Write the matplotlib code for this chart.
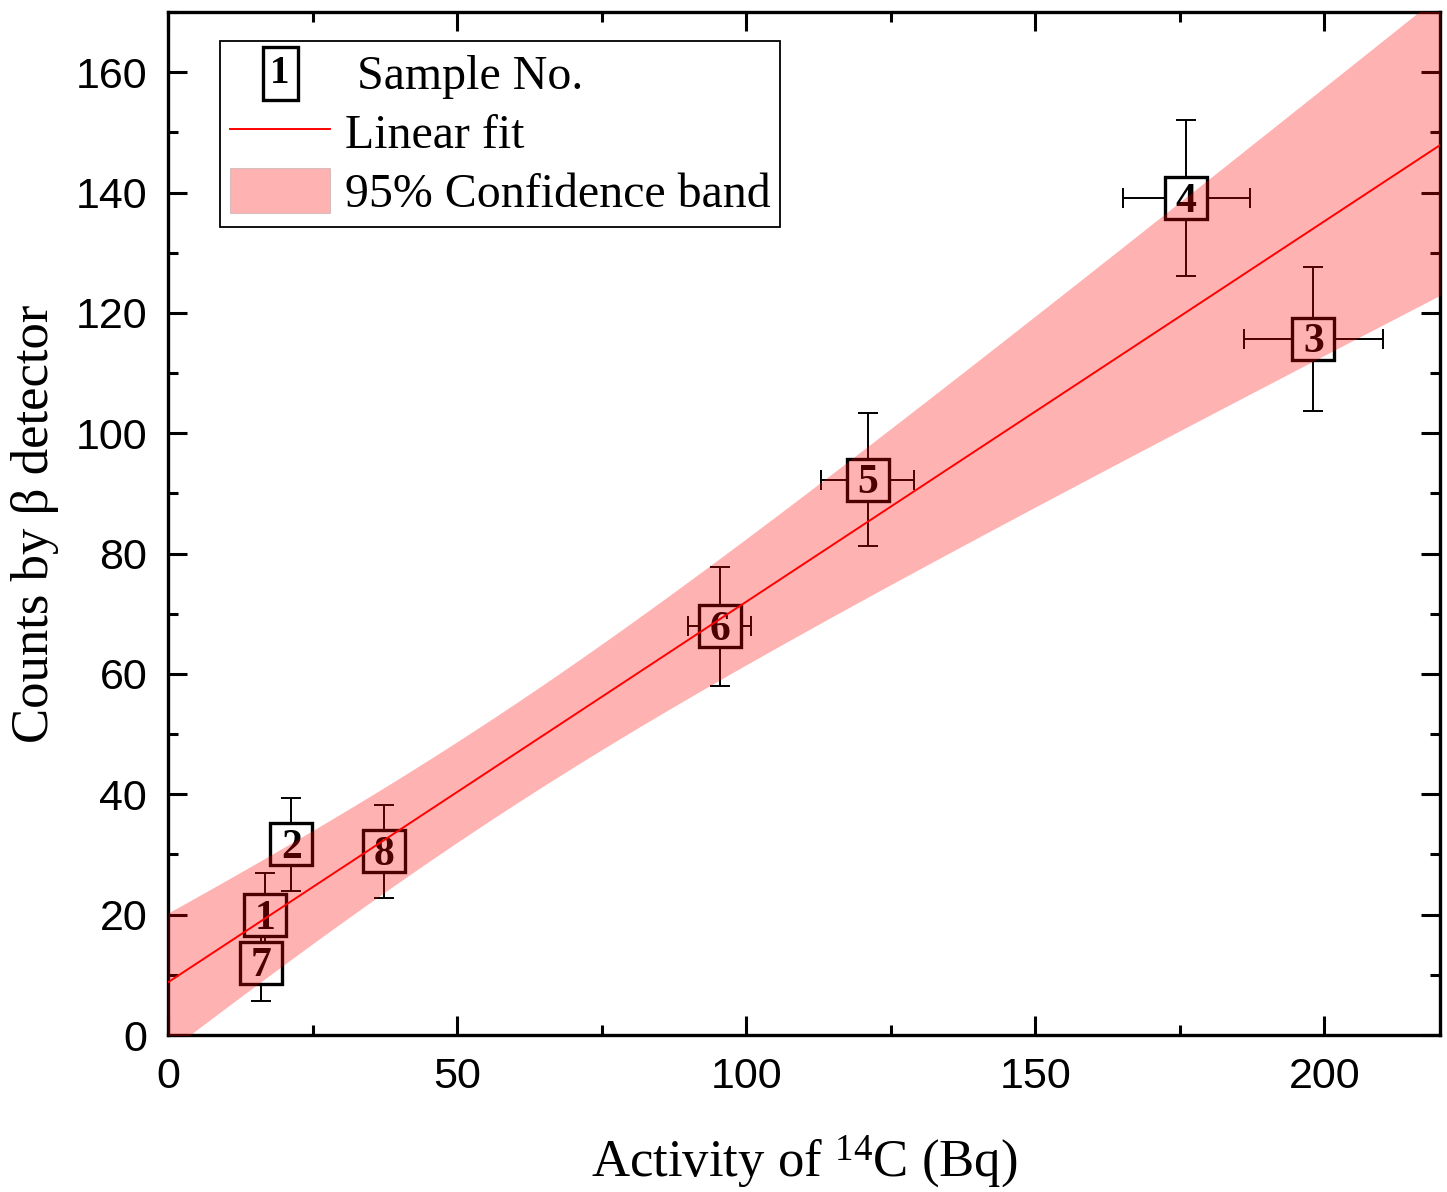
import numpy as np
import matplotlib
matplotlib.use("Agg")
import matplotlib.pyplot as plt
import matplotlib.text as mtext
from matplotlib.lines import Line2D
from matplotlib.patches import Patch
from matplotlib.ticker import MultipleLocator

plt.rcParams["mathtext.fontset"] = "custom"
plt.rcParams["mathtext.rm"] = "Liberation Serif"
plt.rcParams["mathtext.it"] = "Liberation Serif:italic"

SERIF = "Liberation Serif"
SANS = "Liberation Sans"

# samples
sample_no = [1, 2, 3, 4, 5, 6, 7, 8]
activity = np.array([16.8, 21.3, 198.1, 176.1, 121.0, 95.4, 16.1, 37.3])
activity_err = np.array([1.5, 1.5, 12.0, 11.0, 8.0, 5.5, 1.5, 1.5])
counts = np.array([19.9, 31.7, 115.7, 139.1, 92.3, 67.9, 12.0, 30.5])
counts_err = np.array([7.0, 7.7, 12.0, 13.0, 11.1, 9.9, 6.4, 7.7])

T_95 = 2.4469  # t(0.975, df = 6)

# weighted linear fit (w = 1/sigma_y^2), errors scaled by reduced chi-square
w = 1.0 / counts_err ** 2
W = w.sum()
xb = (w * activity).sum() / W
yb = (w * counts).sum() / W
sxx = (w * (activity - xb) ** 2).sum()
slope = (w * (activity - xb) * (counts - yb)).sum() / sxx
icpt = yb - slope * xb
chi2 = (w * (counts - icpt - slope * activity) ** 2).sum()
red_chi2 = chi2 / (len(activity) - 2)

xs = np.linspace(0, 220, 300)
fit = icpt + slope * xs
hw = T_95 * np.sqrt(red_chi2 * (1.0 / W + (xs - xb) ** 2 / sxx))

fig = plt.figure(figsize=(14.47, 11.92), dpi=100)
ax = fig.add_axes([0.1161, 0.1317, 0.8791, 0.8582])

ax.errorbar(activity, counts, xerr=activity_err, yerr=counts_err, fmt="none",
            ecolor="black", elinewidth=1.4, capsize=7, capthick=1.4, zorder=1)
ax.plot(activity, counts, "s", ms=30, mfc="white", mec="black", mew=2.4,
        linestyle="none", zorder=2)
for n, xv, yv in zip(sample_no, activity, counts):
    ax.text(xv, yv - 0.6, str(n), ha="center", va="center", fontsize=30,
            fontweight="bold", family=SERIF, zorder=2.2)

ax.fill_between(xs, fit - hw, fit + hw, color="red", alpha=0.3, lw=0, zorder=3)
ax.plot(xs, fit, color="red", lw=1.4, zorder=4)

ax.set_xlim(0, 220)
ax.set_ylim(0, 170)
ax.xaxis.set_major_locator(MultipleLocator(50))
ax.xaxis.set_minor_locator(MultipleLocator(25))
ax.yaxis.set_major_locator(MultipleLocator(20))
ax.yaxis.set_minor_locator(MultipleLocator(10))
ax.tick_params(which="both", direction="in", top=True, right=True, width=2.2)
ax.tick_params(which="major", length=14)
ax.tick_params(which="minor", length=7)
ax.tick_params(axis="x", labelsize=31, pad=16)
ax.tick_params(axis="y", labelsize=31, pad=15)
for lab in ax.get_xticklabels() + ax.get_yticklabels():
    lab.set_family(SANS)
for sp in ax.spines.values():
    sp.set_linewidth(2.4)

ax.set_xlabel(r"Activity of $^{\mathrm{14}}$C (Bq)", fontsize=38, family=SERIF, labelpad=26)
ax.set_ylabel("Counts by β detector", fontsize=38, family=SERIF, labelpad=12)


class SampleHandler:
    def legend_artist(self, legend, orig_handle, fontsize, handlebox):
        x0, y0 = handlebox.xdescent, handlebox.ydescent
        t = mtext.Text(x0 + handlebox.width / 2, y0 + handlebox.height / 2 - 9, "1",
                       ha="center", va="center", fontsize=28, fontweight="bold",
                       family=SERIF,
                       bbox=dict(boxstyle="square,pad=0.2", fc="none", ec="black", lw=2.4))
        t.set_transform(handlebox.get_transform())
        handlebox.add_artist(t)
        return t


class SampleKey:
    pass


handles = [SampleKey(),
           Line2D([], [], color="red", lw=1.4),
           Patch(facecolor="red", alpha=0.3, edgecolor="grey", lw=0.8)]
labels = [" Sample No.", "Linear fit", "95% Confidence band"]
leg = ax.legend(handles, labels, handler_map={SampleKey: SampleHandler()},
                loc="upper left", bbox_to_anchor=(0.041, 0.972), borderaxespad=0,
                prop={"family": SERIF, "size": 34.5}, frameon=True, fancybox=False,
                edgecolor="black", framealpha=1, handlelength=2.1, handleheight=1.05,
                labelspacing=0.22, handletextpad=0.3, borderpad=0.2)
leg.get_frame().set_linewidth(1.3)
leg.set_zorder(5)

fig.savefig("out.png", dpi=100)
